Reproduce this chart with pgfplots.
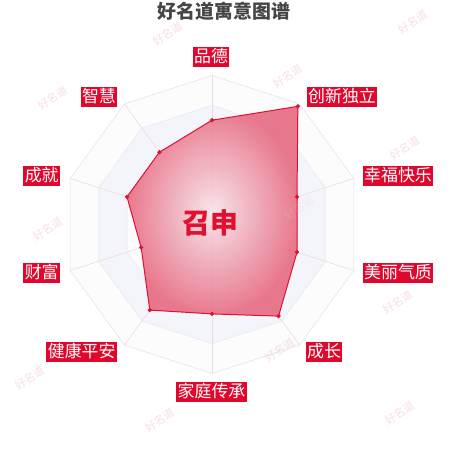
\documentclass[border=0pt]{standalone}
\usepackage{pgfplots}
\pgfplotsset{compat=1.18}
\usepackage{fontspec}
\setmainfont{Noto Sans CJK SC}
\newfontfamily\cjk{Noto Sans CJK SC}
\definecolor{lblred}{HTML}{E0062C}
\definecolor{linered}{HTML}{E01030}
\definecolor{titlegray}{HTML}{464646}
\definecolor{bandblue}{HTML}{F3F5FA}
\definecolor{bandwhite}{HTML}{FCFCFD}
\definecolor{ringgray}{HTML}{E9EAF1}
\definecolor{spoke}{HTML}{EFD9DE}
\definecolor{wm}{HTML}{F0C8CE}
\begin{document}
\begin{tikzpicture}
\useasboundingbox (0,0) rectangle (450bp,450bp);
\begin{axis}[
  at={(0,0)}, anchor=south west,
  scale only axis, width=450bp, height=450bp,
  xmin=-142.28, xmax=159.73, ymin=-151.34, ymax=150.67,
  hide axis, clip=false,
]
% split areas (bands)
\addplot[data cs=polar, fill=bandwhite, draw=ringgray, line width=0.8pt, forget plot]
 coordinates {(90,100) (54,100) (18,100) (-18,100) (-54,100) (-90,100) (-126,100) (-162,100) (162,100) (126,100)} -- cycle;
\addplot[data cs=polar, fill=bandblue, draw=ringgray, line width=0.6pt, forget plot]
 coordinates {(90,80) (54,80) (18,80) (-18,80) (-54,80) (-90,80) (-126,80) (-162,80) (162,80) (126,80)} -- cycle;
\addplot[data cs=polar, fill=bandwhite, draw=ringgray, line width=0.6pt, forget plot]
 coordinates {(90,60) (54,60) (18,60) (-18,60) (-54,60) (-90,60) (-126,60) (-162,60) (162,60) (126,60)} -- cycle;
\addplot[data cs=polar, fill=bandblue, draw=ringgray, line width=0.6pt, forget plot]
 coordinates {(90,40) (54,40) (18,40) (-18,40) (-54,40) (-90,40) (-126,40) (-162,40) (162,40) (126,40)} -- cycle;
\addplot[data cs=polar, fill=bandwhite, draw=ringgray, line width=0.6pt, forget plot]
 coordinates {(90,20) (54,20) (18,20) (-18,20) (-54,20) (-90,20) (-126,20) (-162,20) (162,20) (126,20)} -- cycle;
% spokes
\foreach \a in {90,54,18,-18,-54,-90,-126,-162,162,126}{
  \addplot[data cs=polar, draw=spoke, line width=0.6pt, forget plot] coordinates {(\a,0) (\a,100)};
}
% data polygon
\addplot[data cs=polar, draw=linered, line width=1pt,
  inner color={rgb,255:red,248;green,226;blue,231},
  outer color={rgb,255:red,230;green,98;blue,122},
  shading=radial, fill opacity=0.85,
  mark=*, mark size=1.6pt, mark options={fill=linered, draw=linered, fill opacity=1}]
 coordinates {(90,70) (54,98) (18,60) (-18,60) (-54,76) (-90,60) (-126,71) (-162,50) (162,60) (126,60)} -- cycle;
\end{axis}
\begin{scope}[shift={(0,450bp)}, x=1bp, y=-1bp]
% watermarks
\foreach \p in {(168,34),(413,22),(288,76),(53,98),(48,229),(30,378),(160,420),(280,350),(400,413),(405,148),(398,302)}{
  \node[text=wm, rotate=32, font=\cjk\fontsize{11}{11}\selectfont, opacity=0.6] at \p {好名道};
}
\node[text=wm, rotate=32, font=\cjk\fontsize{11}{11}\selectfont, opacity=0.25] at (300,208) {好名道};
% title
\node[text=titlegray, font=\cjk\bfseries\fontsize{19}{19}\selectfont] at (224,11) {好名道寓意图谱};
% labels
\tikzset{lbl/.style={fill=lblred, text=white, font=\cjk\fontsize{17}{17}\selectfont, inner xsep=1.5bp, inner ysep=0bp, minimum height=20bp, text height=14bp, text depth=3bp}}
\node[lbl] at (211,57) {品德};
\node[lbl] at (342,97) {创新独立};
\node[lbl] at (398,176) {幸福快乐};
\node[lbl] at (398,273) {美丽气质};
\node[lbl] at (324,352) {成长};
\node[lbl] at (211.5,392) {家庭传承};
\node[lbl] at (81.7,352) {健康平安};
\node[lbl] at (41.7,273) {财富};
\node[lbl] at (41.7,176) {成就};
\node[lbl] at (99,97) {智慧};
% center name
\node[text=linered, font=\cjk\bfseries\fontsize{28}{28}\selectfont] at (210,223) {召申};
\end{scope}
\end{tikzpicture}
\end{document}
